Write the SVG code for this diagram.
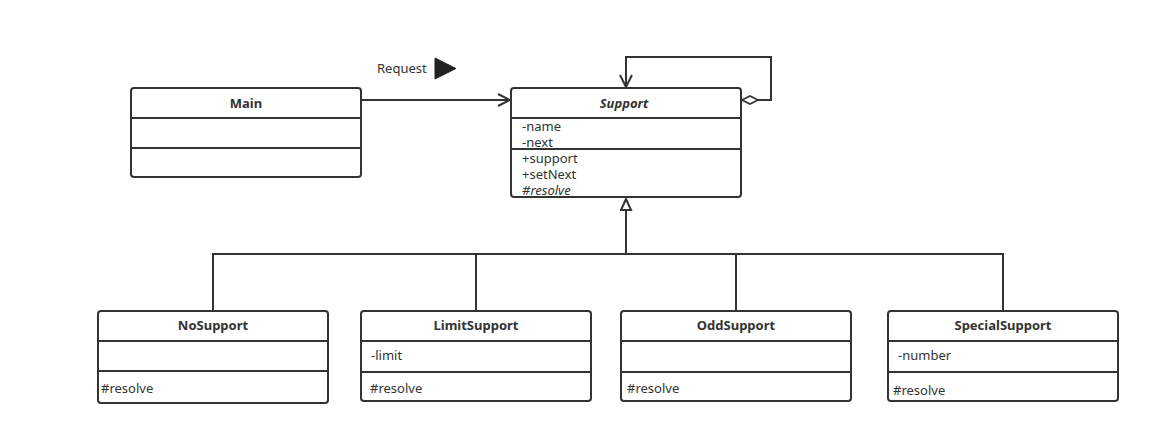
<svg xmlns="http://www.w3.org/2000/svg" width="1149" height="442" viewBox="0 0 1149 442">
<defs>
<style>
.box{fill:#fff;stroke:#333;stroke-width:2}
.div{stroke:#333;stroke-width:2;fill:none}
.line{stroke:#333;stroke-width:2;fill:none}
text{font-family:"Noto Sans","DejaVu Sans",sans-serif;font-size:13px;fill:#333}
.t{font-weight:bold;text-anchor:middle}
.i{font-style:italic}
</style>
<marker id="open" markerWidth="14" markerHeight="14" refX="13" refY="7" orient="auto" markerUnits="userSpaceOnUse">
<path d="M1,1 L13,7 L1,13" fill="none" stroke="#333" stroke-width="2"/>
</marker>
<marker id="tri" markerWidth="14" markerHeight="14" refX="12" refY="6" orient="auto" markerUnits="userSpaceOnUse">
<path d="M1,1 L12,6 L1,11 Z" fill="#fff" stroke="#333" stroke-width="2"/>
</marker>
<marker id="dia" markerWidth="22" markerHeight="12" refX="1" refY="6" orient="auto" markerUnits="userSpaceOnUse">
<path d="M1,6 L9,2 L17,6 L9,10 Z" fill="#fff" stroke="#333" stroke-width="1.6"/>
</marker>
</defs>
<rect width="1149" height="442" fill="#fff"/>
<g id="connectors">
<path class="line" d="M361,100 L510,100" marker-end="url(#open)"/>
<path class="line" d="M742,100 L771,100 L771,57 L626,57 L626,87" marker-start="url(#dia)" marker-end="url(#open)"/>
<path class="line" d="M626,254 L626,199" marker-end="url(#tri)"/>
<path class="line" d="M213,311 L213,254 L1003,254 L1003,311"/>
<path class="line" d="M476,254 L476,311"/>
<path class="line" d="M736,254 L736,311"/>
<g id="request-label">
<text x="377" y="73">Request</text>
<path d="M435,58 L456,68.5 L435,79 Z" fill="#222" stroke="#222" stroke-width="1"/>
</g>
</g>
<g id="Main">
<rect class="box" x="131" y="88" width="230" height="89" rx="3"/>
<line class="div" x1="131" y1="118" x2="361" y2="118"/>
<line class="div" x1="131" y1="148" x2="361" y2="148"/>
<text class="t" x="246" y="108">Main</text>
</g>
<g id="Support">
<rect class="box" x="511" y="88" width="230" height="109" rx="3"/>
<line class="div" x1="511" y1="118" x2="741" y2="118"/>
<line class="div" x1="511" y1="149" x2="741" y2="149"/>
<text class="t i" x="624" y="108">Support</text>
<text x="522" y="131">-name</text>
<text x="522" y="147">-next</text>
<text x="522" y="163">+support</text>
<text x="522" y="179">+setNext</text>
<text class="i" x="522" y="195">#resolve</text>
</g>
<g id="NoSupport">
<rect class="box" x="98" y="311" width="230" height="92" rx="3"/>
<line class="div" x1="98" y1="341" x2="328" y2="341"/>
<line class="div" x1="98" y1="371" x2="328" y2="371"/>
<text class="t" x="213" y="330">NoSupport</text>
<text x="101" y="393">#resolve</text>
</g>
<g id="LimitSupport">
<rect class="box" x="361" y="311" width="230" height="90" rx="3"/>
<line class="div" x1="361" y1="341" x2="591" y2="341"/>
<line class="div" x1="361" y1="372" x2="591" y2="372"/>
<text class="t" x="476" y="330">LimitSupport</text>
<text x="371" y="360">-limit</text>
<text x="370" y="393">#resolve</text>
</g>
<g id="OddSupport">
<rect class="box" x="621" y="311" width="230" height="90" rx="3"/>
<line class="div" x1="621" y1="341" x2="851" y2="341"/>
<line class="div" x1="621" y1="372" x2="851" y2="372"/>
<text class="t" x="736" y="330">OddSupport</text>
<text x="627" y="393">#resolve</text>
</g>
<g id="SpecialSupport">
<rect class="box" x="888" y="311" width="230" height="90" rx="3"/>
<line class="div" x1="888" y1="341" x2="1118" y2="341"/>
<line class="div" x1="888" y1="372" x2="1118" y2="372"/>
<text class="t" x="1003" y="330">SpecialSupport</text>
<text x="898" y="360">-number</text>
<text x="893" y="395">#resolve</text>
</g>
</svg>
